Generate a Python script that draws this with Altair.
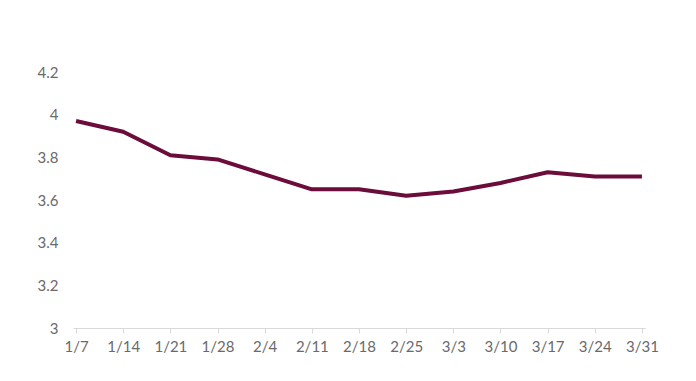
import altair as alt
import pandas as pd

dates = ["1/7", "1/14", "1/21", "1/28", "2/4", "2/11", "2/18", "2/25",
         "3/3", "3/10", "3/17", "3/24", "3/31"]
values = [3.97, 3.92, 3.81, 3.79, 3.72, 3.65, 3.65, 3.62,
          3.64, 3.68, 3.73, 3.71, 3.71]

df = pd.DataFrame({"date": dates, "value": values})

label_color = "#6a6a6a"

chart = alt.Chart(df).mark_line(
    color="#6B0C3A", strokeWidth=4, strokeJoin="round", strokeCap="butt"
).encode(
    x=alt.X("date:N", sort=dates,
            scale=alt.Scale(type="point", padding=0.065),
            axis=alt.Axis(title=None, labelAngle=0, domainColor="#d9d9d9",
                          tickColor="#d9d9d9", tickSize=5, labelPadding=6,
                          labelColor=label_color, labelFontSize=15,
                          labelFont="Lato", grid=False)),
    y=alt.Y("value:Q",
            scale=alt.Scale(domain=[3, 4.2], nice=False, zero=False),
            axis=alt.Axis(title=None, values=[3, 3.2, 3.4, 3.6, 3.8, 4, 4.2],
                          format="~g", domain=False, ticks=False, grid=False,
                          labelPadding=15, labelColor=label_color,
                          labelFontSize=15, labelFont="Lato")),
).properties(
    width=572, height=256,
    autosize=alt.AutoSizeParams(type="none"),
    padding={"left": 65, "top": 64, "right": 30, "bottom": 40},
).configure_view(stroke=None)

chart.save("out.html", embed_options={"renderer": "svg", "actions": False})
